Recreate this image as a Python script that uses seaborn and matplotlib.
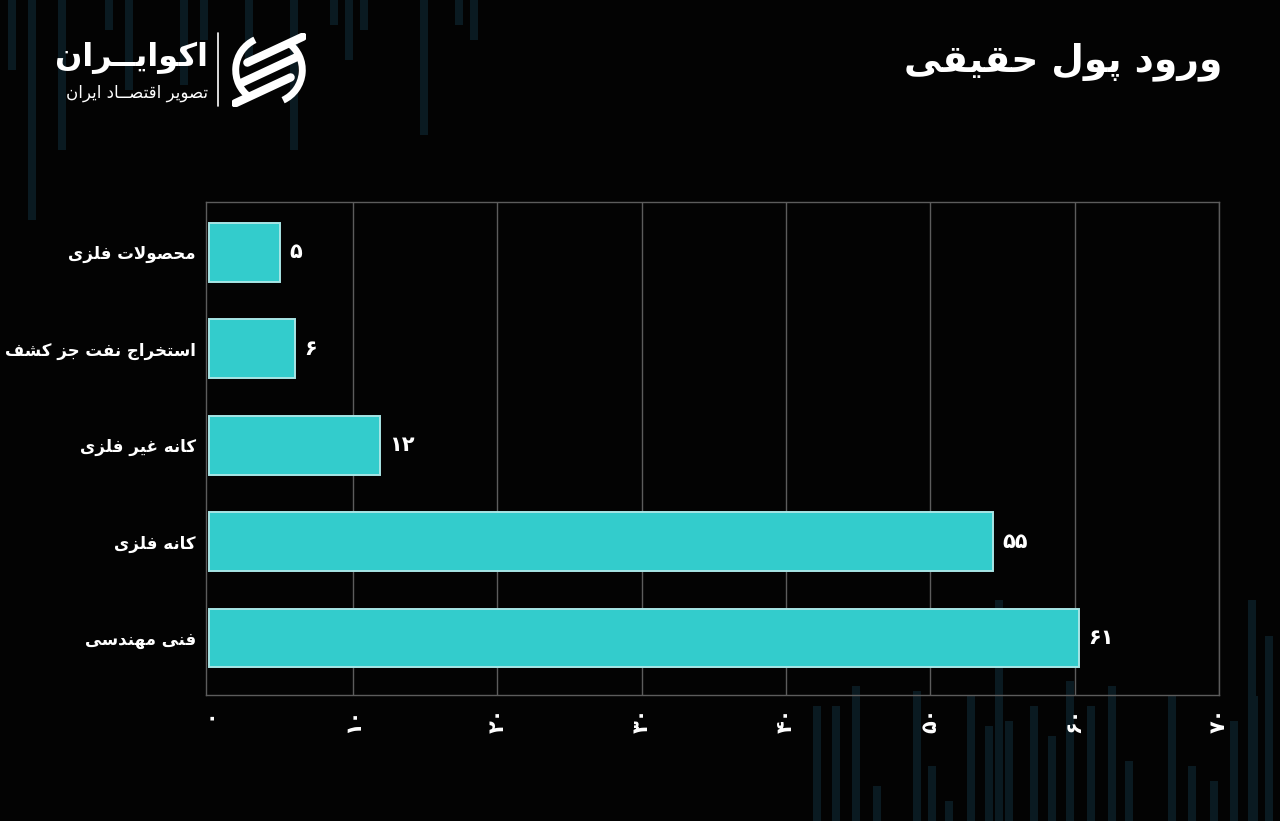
import matplotlib
matplotlib.use("Agg")
import matplotlib.pyplot as plt
from matplotlib.patches import Rectangle, Arc
import pandas as pd
import seaborn as sns

# data (bar lengths) and the printed labels
sectors = ["محصولات فلزی", "استخراج نفت جز کشف", "کانه غیر فلزی", "کانه فلزی", "فنی مهندسی"]
values = [4.97, 5.96, 11.87, 54.35, 60.29]
value_labels = ["5", "6", "12", "55", "61"]
x_ticks = [0, 10, 20, 30, 40, 50, 60, 70]

title = "ورود پول حقیقی"
brand = "اکوایــران"
brand_sub = "تصویر اقتصــاد ایران"

# --- minimal persian shaping (matplotlib has no complex text layout) ---
DUAL = {"ب": 0xFE8F, "ت": 0xFE95, "ث": 0xFE99, "ج": 0xFE9D, "ح": 0xFEA1, "خ": 0xFEA5,
        "س": 0xFEB1, "ش": 0xFEB5, "ص": 0xFEB9, "ض": 0xFEBD, "ط": 0xFEC1, "ظ": 0xFEC5,
        "ع": 0xFEC9, "غ": 0xFECD, "ف": 0xFED1, "ق": 0xFED5, "ل": 0xFEDD, "م": 0xFEE1,
        "ن": 0xFEE5, "ه": 0xFEE9, "پ": 0xFB56, "ک": 0xFB8E, "ی": 0xFBFC, "گ": 0xFB92,
        "چ": 0xFB7A}
RIGHT = {"ا": 0xFE8D, "د": 0xFEA9, "ذ": 0xFEAB, "ر": 0xFEAD, "ز": 0xFEAF, "و": 0xFEED,
         "ژ": 0xFB8A}
TATWEEL = "ـ"


def fa(text):
    res = []
    prev_dual = False
    i = 0
    n = len(text)
    while i < n:
        c = text[i]
        if c == "ل" and i + 1 < n and text[i + 1] == "ا":
            res.append("\uFEFC" if prev_dual else "\uFEFB")
            prev_dual = False
            i += 2
            continue
        if c == TATWEEL:
            res.append(c)
            prev_dual = True
        elif c in DUAL or c in RIGHT:
            base = DUAL.get(c, RIGHT.get(c))
            nxt = text[i + 1] if i + 1 < n else ""
            to_next = c in DUAL and (nxt in DUAL or nxt in RIGHT or nxt == TATWEEL)
            if prev_dual and to_next:
                form = 3
            elif prev_dual:
                form = 1
            elif to_next:
                form = 2
            else:
                form = 0
            res.append(chr(base + form))
            prev_dual = c in DUAL
        else:
            res.append(c)
            prev_dual = False
        i += 1
    return "".join(reversed(res))


def fa_num(s):
    return str(s).translate(str.maketrans("0123456789", "۰۱۲۳۴۵۶۷۸۹"))


sns.set_style("dark")
plt.rcParams["font.family"] = ["DejaVu Sans"]

BG = "#030303"
BAR = "#33CCCC"
EDGE = "#A8E6E6"
FRAME = "#5C5C5C"
CANDLE = "#0A1A21"

fig = plt.figure(figsize=(12.8, 8.21), dpi=100, facecolor=BG)

# faint decorative candle bars in the background
bg = fig.add_axes([0, 0, 1, 1], zorder=-5)
bg.set_xlim(0, 1280)
bg.set_ylim(821, 0)
bg.axis("off")
top_bars = [(8, 70), (28, 220), (58, 150), (105, 30), (125, 90), (180, 85), (200, 40),
            (245, 60), (290, 150), (330, 25), (345, 60), (360, 30), (420, 135), (455, 25),
            (470, 40)]
for x, h in top_bars:
    bg.add_patch(Rectangle((x, 0), 8, h, color=CANDLE, lw=0))
bottom_bars = [(813, 115), (832, 115), (852, 135), (873, 35), (913, 130), (928, 55),
                (945, 20), (967, 125), (985, 95), (1005, 100), (1030, 115), (1048, 85),
                (1066, 140), (1087, 115), (1108, 135), (1125, 60), (1168, 125), (1188, 55),
                (1210, 40), (1230, 100), (1250, 125), (1265, 185), (1280, 95)]
for x, h in bottom_bars:
    bg.add_patch(Rectangle((x, 821 - h), 8, h, color=CANDLE, lw=0))
bg.add_patch(Rectangle((995, 600), 8, 221, color=CANDLE, lw=0))
bg.add_patch(Rectangle((1248, 600), 8, 221, color=CANDLE, lw=0))

ax = fig.add_axes([0.1607, 0.1535, 0.7916, 0.6005])
ax.set_facecolor("none")

df = pd.DataFrame({"sector": [fa(s) for s in sectors], "value": values})
sns.barplot(data=df, x="value", y="sector", orient="h", color=BAR, saturation=1,
            width=0.61, edgecolor=EDGE, linewidth=1.4, ax=ax, zorder=3)

for i, (v, lab) in enumerate(zip(values, value_labels)):
    ax.text(v + 0.65, i, fa_num(lab), va="center", ha="left", color="white",
            fontsize=15, fontweight="bold", zorder=4)

ax.set_xlim(-0.2, 70)
ax.set_ylim(4.59, -0.52)
ax.set_xticks(x_ticks)
ax.set_xticklabels([fa_num(t) for t in x_ticks], rotation=90, color="white",
                   fontsize=15, fontweight="bold")
ax.tick_params(axis="x", length=0, pad=9)
ax.tick_params(axis="y", length=0, pad=7, labelcolor="white", labelsize=12)
for lab in ax.get_yticklabels():
    lab.set_fontweight("bold")
ax.set_xlabel("")
ax.set_ylabel("")
ax.grid(axis="x", color=FRAME, lw=1, zorder=0)
ax.grid(axis="y", visible=False)
ax.get_xgridlines()[0].set_visible(False)
for sp in ax.spines.values():
    sp.set_visible(True)
    sp.set_color(FRAME)
    sp.set_linewidth(1)

# title
fig.text(1222 / 1280, 1 - 62 / 821, fa(title), ha="right", va="center", color="white",
         fontsize=27, fontweight="bold")

# brand block
fig.text(208 / 1280, 1 - 58 / 821, fa(brand), ha="right", va="center", color="white",
         fontsize=23, fontweight="bold")
fig.text(208 / 1280, 1 - 93 / 821, fa(brand_sub), ha="right", va="center", color="white",
         fontsize=12)
fig.add_artist(plt.Line2D([218 / 1280, 218 / 1280], [1 - 33 / 821, 1 - 106 / 821],
                          color="white", lw=1.2))

icon = fig.add_axes([232 / 1280, 1 - 107 / 821, 74 / 1280, 74 / 821])
icon.set_xlim(-1, 1)
icon.set_ylim(-1, 1)
icon.set_aspect("equal")
icon.axis("off")
icon.add_patch(Arc((0, 0), 1.8, 1.8, theta1=115, theta2=235, color="white", lw=5))
icon.add_patch(Arc((0, 0), 1.8, 1.8, theta1=-65, theta2=55, color="white", lw=5))
for off in (-0.55, 0.0, 0.55):
    icon.plot([-0.75 + off * 0.3, 0.75 + off * 0.3], [-0.35 + off, 0.35 + off],
              color="white", lw=6, solid_capstyle="round")

fig.savefig("out.png", dpi=100, facecolor=BG)
